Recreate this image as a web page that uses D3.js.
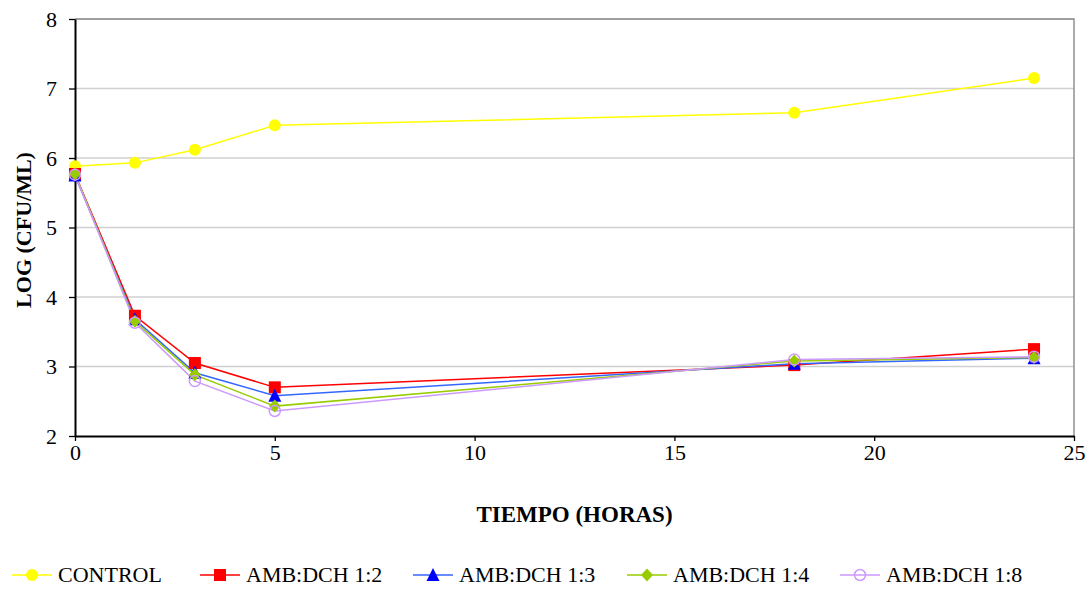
<!DOCTYPE html>
<meta charset="utf-8">
<style>
body { margin: 0; background: #fff; }
svg text { font-family: "Liberation Serif", "Times New Roman", serif; fill: #000; }
</style>
<body>
<script src="https://d3js.org/d3.v7.min.js"></script>
<script>

var hours = [0, 1.5, 3, 5, 18, 24];
var control = [5.88, 5.93, 6.12, 6.47, 6.65, 7.15];
var amb12 = [5.77, 3.73, 3.05, 2.70, 3.02, 3.25];
var amb13 = [5.75, 3.68, 2.91, 2.58, 3.04, 3.12];
var amb14 = [5.77, 3.65, 2.88, 2.43, 3.08, 3.13];
var amb18 = [5.76, 3.63, 2.79, 2.36, 3.10, 3.14];
var xTicks = [0, 5, 10, 15, 20, 25];
var yTicks = [2, 3, 4, 5, 6, 7, 8];

var series = [
  { name: "CONTROL", values: control, color: "#ffff00", shape: "circle" },
  { name: "AMB:DCH 1:2", values: amb12, color: "#ff0000", shape: "square" },
  { name: "AMB:DCH 1:3", values: amb13, color: "#0000ff", line: "#3366ff", shape: "triangle" },
  { name: "AMB:DCH 1:4", values: amb14, color: "#99cc00", shape: "diamond" },
  { name: "AMB:DCH 1:8", values: amb18, color: "#cc99ff", shape: "open" }
];

var width = 1091, height = 590,
    plotL = 75, plotR = 1074, plotT = 19, plotB = 436;

var svg = d3.select("body").append("svg")
    .attr("width", width)
    .attr("height", height)
    .style("font-family", "'Liberation Serif', 'Times New Roman', serif");

var x = d3.scaleLinear().domain([0, 25]).range([plotL, plotR]);
var y = d3.scaleLinear().domain([2, 8]).range([plotB, plotT]);

// gridlines
svg.append("g").selectAll("line")
    .data(yTicks.filter(function(d) { return d > 2 && d < 8; }))
  .enter().append("line")
    .attr("x1", plotL).attr("x2", plotR)
    .attr("y1", y).attr("y2", y)
    .attr("stroke", "#d0d0d0")
    .attr("stroke-width", 1.3);

// frame top/right
svg.append("path")
    .attr("d", "M" + plotL + "," + plotT + "H" + plotR + "V" + plotB)
    .attr("fill", "none")
    .attr("stroke", "#808080")
    .attr("stroke-width", 1.3);

var xAxis = svg.append("g")
    .attr("transform", "translate(0," + plotB + ")")
    .call(d3.axisBottom(x).tickValues(xTicks).tickSize(5).tickPadding(3).tickSizeOuter(0));

var yAxis = svg.append("g")
    .attr("transform", "translate(" + plotL + ",0)")
    .call(d3.axisLeft(y).tickValues(yTicks).tickFormat(d3.format("d"))
      .tickSize(6).tickPadding(12).tickSizeOuter(0));

[xAxis, yAxis].forEach(function(a) {
  a.attr("font-family", null);
  a.select(".domain").attr("stroke", "#000").attr("stroke-width", 2);
  a.selectAll(".tick line").attr("stroke", "#000").attr("stroke-width", 1.3);
  a.selectAll("text")
      .style("font-family", "'Liberation Serif', 'Times New Roman', serif")
      .style("font-size", "22px")
      .attr("fill", "#000");
});

svg.append("text")
    .attr("x", (plotL + plotR) / 2)
    .attr("y", 522)
    .attr("text-anchor", "middle")
    .style("font-size", "23px")
    .attr("font-weight", "bold")
    .text("TIEMPO (HORAS)");

svg.append("text")
    .attr("transform", "translate(31,230) rotate(-90)")
    .attr("text-anchor", "middle")
    .style("font-size", "22px")
    .attr("font-weight", "bold")
    .text("LOG (CFU/ML)");

var line = d3.line()
    .x(function(d, i) { return x(hours[i]); })
    .y(function(d) { return y(d); });

function marker(g, s) {
  if (s.shape === "circle") {
    g.append("circle").attr("r", 6).attr("fill", s.color);
  } else if (s.shape === "square") {
    g.append("rect").attr("x", -6).attr("y", -6).attr("width", 12).attr("height", 12).attr("fill", s.color);
  } else if (s.shape === "triangle") {
    g.append("path").attr("d", "M0,-7L6.5,6L-6.5,6Z").attr("fill", s.color);
  } else if (s.shape === "diamond") {
    g.append("path").attr("d", "M0,-6.5L6,0L0,6.5L-6,0Z").attr("fill", s.color);
  } else {
    g.append("circle").attr("r", 5.5).attr("fill", "none")
        .attr("stroke", s.color).attr("stroke-width", 1.5);
  }
}

series.forEach(function(s) {
  svg.append("path")
      .datum(s.values)
      .attr("d", line)
      .attr("fill", "none")
      .attr("stroke", s.line || s.color)
      .attr("stroke-width", 1.5);
});

series.forEach(function(s) {
  s.values.forEach(function(v, i) {
    var g = svg.append("g")
        .attr("transform", "translate(" + x(hours[i]) + "," + y(v) + ")");
    marker(g, s);
  });
});

// legend
var legendX = [12, 200, 413, 627, 840];
series.forEach(function(s, i) {
  var g = svg.append("g").attr("transform", "translate(" + legendX[i] + ",575)");
  g.append("line")
      .attr("x1", 0).attr("x2", 40)
      .attr("stroke", s.line || s.color)
      .attr("stroke-width", 1.5);
  var m = g.append("g").attr("transform", "translate(20,0)");
  marker(m, s);
  g.append("text")
      .attr("x", 46)
      .attr("y", 7)
      .style("font-size", "22px")
      .text(s.name);
});

</script>
</body>
